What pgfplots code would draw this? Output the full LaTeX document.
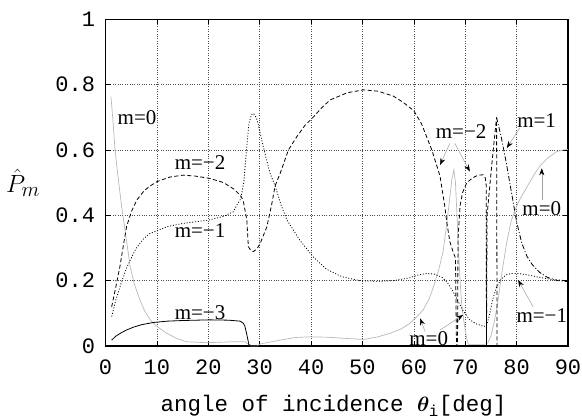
\documentclass[border=0pt]{standalone}
\usepackage{fontspec}
\setmainfont{Liberation Mono}
\newfontfamily\tnr{Liberation Serif}
\usepackage{bm}
\usepackage{pgfplots}
\pgfplotsset{compat=1.18}
\usetikzlibrary{arrows.meta}
\begin{document}
\begin{tikzpicture}[x=1pt,y=1pt]
\useasboundingbox (0,0) rectangle (582,419);
\begin{axis}[
  at={(105.5pt,73pt)}, anchor=south west,
  scale only axis, width=462.5pt, height=326.7pt,
  xmin=0, xmax=90, ymin=0, ymax=1,
  xtick={0,10,...,90}, ytick={0,0.2,0.4,0.6,0.8,1},
  /pgf/number format/assume math mode=true,
  yticklabel style={/pgf/number format/fixed,/pgf/number format/precision=1, xshift=-7pt},
  xticklabel style={yshift=-10pt},
  tick label style={font=\fontsize{22}{26}\selectfont},
  grid=major,
  major grid style={dotted, line width=0.6pt, black!70},
  tick style={black, line width=0.6pt},
  major tick length=5pt,
  axis line style={line width=1.2pt},
  clip=false,
]
% m=0 (gray)
\addplot[gray!55, line width=0.7pt] coordinates {
(1.07,0.763)(1.5,0.68)(1.85,0.6)(2.5,0.51)(3.15,0.426)(3.8,0.355)(4.8,0.243)(5.6,0.19)(6.7,0.141)(7.6,0.108)(8.7,0.08)(10,0.06)(11.9,0.039)(14,0.022)(15.8,0.013)(19.7,0.01)(24.9,0.013)(27.1,0.013)(27.8,0.005)(28.3,0.0)(29.5,0.0)(30.1,0.006)(32,0.012)(34,0.018)(37,0.026)(39.8,0.028)(43,0.027)(46.9,0.023)(50.2,0.02)(53,0.028)(55.4,0.039)(57.5,0.052)(59.2,0.069)(60.5,0.088)(61.8,0.11)(63,0.145)(63.8,0.18)(64.8,0.23)(65.7,0.29)(66.3,0.36)(66.9,0.44)(67.4,0.51)(67.8,0.54)(68.1,0.5)(68.4,0.4)(68.7,0.29)(69,0.2)(69.3,0.13)(69.7,0.08)(70.2,0.03)(70.6,0.005)(73.8,0.005)(74.4,0.01)(75,0.03)(75.6,0.07)(76.2,0.12)(77,0.21)(78,0.31)(78.9,0.38)(79.7,0.416)(80.5,0.445)(81.3,0.467)(82.5,0.5)(83.5,0.527)(84.5,0.55)(86,0.575)(87.8,0.595)(89,0.6)(90,0.602)
};
% m=-3 (solid)
\addplot[black, line width=0.8pt] coordinates {
(1.2,0.018)(2,0.03)(3,0.04)(4.1,0.049)(5.5,0.058)(7,0.065)(9.3,0.072)(12,0.076)(15,0.078)(20.3,0.08)(24,0.079)(26.2,0.076)(26.8,0.07)(27.1,0.062)(27.5,0.035)(27.9,0.005)(28.3,0.0)(30,0.0)
};
% m=-2 (dashed)
\addplot[black, line width=0.8pt, dash pattern=on 4pt off 2.5pt] coordinates {
(1.2,0.12)(2,0.18)(2.8,0.243)(3.5,0.31)(4.1,0.365)(5,0.41)(6.1,0.447)(7.5,0.475)(8.7,0.49)(10,0.503)(12.5,0.517)(15.1,0.523)(17.5,0.52)(20.3,0.513)(23,0.5)(25,0.48)(26.3,0.46)(26.8,0.445)(27.5,0.386)(27.8,0.304)(28.3,0.292)(28.8,0.289)(29.5,0.298)(30.1,0.314)(31.4,0.365)(32.3,0.43)(33,0.49)(34,0.529)(35.6,0.6)(37.2,0.64)(38.8,0.675)(40.4,0.70)(42,0.728)(43.7,0.753)(47,0.775)(50.2,0.784)(53,0.78)(56,0.765)(58,0.745)(60,0.72)(61.5,0.68)(62.5,0.64)(63.5,0.6)(64.3,0.56)(65.1,0.52)(66,0.43)(66.5,0.37)(67,0.32)(67.7,0.285)(68.1,0.27)(68.3,0.0)(68.5,0.0)(68.6,0.33)(69,0.43)(69.5,0.47)(70.3,0.50)(71.5,0.515)(72.5,0.523)(73.5,0.524)(73.9,0.515)(74.1,0.49)(74.13,0.0)(74.25,0.40)(75.2,0.56)(76.1,0.70)(76.2,0.0)
};
% m=-1 (dotted)
\addplot[black, line width=0.8pt, dash pattern=on 1pt off 1.8pt] coordinates {
(1.2,0.09)(2,0.14)(3,0.19)(4,0.235)(4.8,0.263)(6,0.3)(7.5,0.33)(8.7,0.345)(10,0.352)(11.9,0.365)(15,0.375)(20.3,0.386)(23,0.397)(24.9,0.411)(25.5,0.43)(26.3,0.45)(26.9,0.5)(27.5,0.61)(27.9,0.68)(28.4,0.708)(28.8,0.712)(29.3,0.70)(29.7,0.68)(30.7,0.61)(32,0.53)(33,0.49)(34.2,0.43)(35.3,0.386)(37.8,0.324)(40.4,0.273)(43,0.235)(46,0.212)(49.5,0.2)(53,0.198)(56,0.2)(59,0.208)(61,0.218)(62.5,0.222)(64,0.22)(65.5,0.21)(66.5,0.195)(67.5,0.17)(68.5,0.14)(69.5,0.11)(70.9,0.08)(72.1,0.068)(73.2,0.062)(74.1,0.06)(74.8,0.1)(75.3,0.14)(76.1,0.18)(77,0.205)(78,0.218)(79,0.222)(80.3,0.222)(82,0.218)(84.5,0.21)(87,0.203)(90,0.2)
};
% m=1 (dash-dot)
\addplot[black, line width=0.8pt, dash pattern=on 5pt off 2pt on 1pt off 2pt] coordinates {
(76.1,0.70)(77,0.64)(78,0.56)(79,0.47)(80,0.38)(81,0.315)(82,0.275)(83,0.25)(84.5,0.225)(86,0.21)(88,0.2)(90,0.197)
};
% labels
\tikzset{lbl/.style={font=\tnr\fontsize{21}{24}\selectfont, inner sep=0pt},
  arr/.style={gray!75, line width=0.5pt, -{Stealth[length=7pt,width=5pt,color=black]}}}
\node[lbl] at (axis cs:6.13,0.698) {m=0};
\node[lbl] at (axis cs:18.4,0.560) {m=−2};
\node[lbl] at (axis cs:18.4,0.352) {m=−1};
\node[lbl] at (axis cs:18.4,0.101) {m=−3};
\node[lbl] at (axis cs:69.2,0.655) {m=−2};
\draw[arr] (axis cs:67.0,0.620) -- (axis cs:65.1,0.554);
\draw[arr] (axis cs:68.0,0.620) -- (axis cs:70.9,0.534);
\node[lbl] at (axis cs:83.9,0.689) {m=1};
\draw[arr] (axis cs:80.6,0.667) -- (axis cs:78.1,0.606);
\node[lbl] at (axis cs:84.9,0.421) {m=0};
\draw[arr] (axis cs:84.9,0.447) -- (axis cs:84.9,0.544);
\node[lbl] at (axis cs:84.9,0.092) {m=−1};
\draw[arr] (axis cs:83.2,0.120) -- (axis cs:80.3,0.202);
\node[lbl] at (axis cs:62.9,0.024) {m=0};
\draw[arr] (axis cs:62.2,0.044) -- (axis cs:61.2,0.085);
\draw[arr] (axis cs:65.1,0.049) -- (axis cs:69.6,0.095);
\end{axis}
\node[font=\fontsize{22.5}{26}\selectfont] at (333.5,13) {angle of incidence $\bm{\theta}_{\mathrm{i}}$[deg]};
\node[font=\fontsize{28}{32}\selectfont, inner sep=0pt] at (23,236) {$\hat{P}_m$};
\end{tikzpicture}
\end{document}
